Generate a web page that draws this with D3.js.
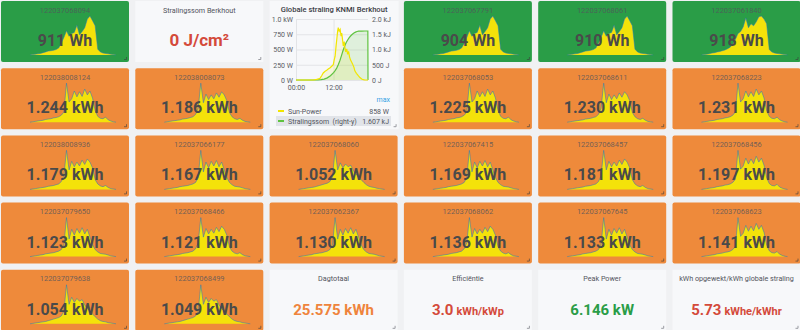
<!DOCTYPE html>
<html><head><meta charset="utf-8">
<script src="https://cdn.jsdelivr.net/npm/d3@7"></script>
<style>
html,body{margin:0;padding:0;background:#f0f1f3;}
svg{display:block;font-family:Roboto,"Helvetica Neue",Arial,sans-serif;}
</style></head><body>
<svg id="c" width="800" height="330"></svg>
<script>
// ---------------- DATA ----------------
// Sparkline time axis (hours of the day)
const sparkHours = [5.5,6,6.5,7,7.5,8,8.5,9,9.5,10,10.5,11,11.5,12,12.5,13,13.5,14,14.5,15,15.5,16,16.5,17,17.5,18,18.5,19,19.5,20,20.5,21,21.5,22];
// Power profiles (W) read from the sparklines
const profileG1 = [0,1,2,3,4,6,8,10,11,12,14,18,30,45,62,48,55,58,76,52,60,70,92,100,88,75,15,8,5,4,3,2,1,0];
const profileG2 = [0,1,2,3,5,6,8,9,11,13,16,20,28,40,55,60,72,95,70,80,75,85,98,100,92,80,14,8,5,4,3,2,1,0];
const profileO1 = [0,1,2,3,4,5,7,8,9,11,12,14,18,26,100,52,60,80,65,78,66,85,70,80,62,30,15,10,9,13,6,3,1,0];
const profileO2 = [0,1,2,3,4,5,6,8,9,10,12,14,20,35,100,50,72,58,70,60,75,64,78,70,55,25,14,9,7,10,5,2,1,0];
const profileO3 = [0,1,2,3,4,5,7,8,9,10,12,14,18,30,100,45,70,55,72,60,74,58,70,50,30,18,12,8,7,6,4,2,1,0];
const profileO4 = [0,1,2,3,4,5,6,8,10,12,14,16,20,32,100,50,68,55,65,58,62,48,40,32,25,18,12,8,6,5,3,2,1,0];
const profiles = {G1:profileG1, G2:profileG2, O1:profileO1, O2:profileO2, O3:profileO3, O4:profileO4};

// Inverter panels, in dashboard reading order
const serials = ["122037068094","122037067791","122037068061","122037061840",
  "122038008124","122038008073","122037068053","122037068611","122037068223",
  "122038008936","122037066177","122037068060","122037067415","122037068457","122037068456",
  "122037079650","122037068466","122037062367","122037068062","122037067645","122037068623",
  "122037079638","122037068499"];
const energyKWh = [0.911,0.904,0.910,0.918,
  1.244,1.186,1.225,1.230,1.231,
  1.179,1.167,1.052,1.169,1.181,1.197,
  1.123,1.121,1.130,1.136,1.133,1.141,
  1.054,1.049];
const profileOf = ["G1","G1","G1","G2",
  "O1","O2","O1","O2","O1",
  "O2","O3","O4","O3","O2","O1",
  "O3","O2","O3","O2","O3","O1",
  "O4","O4"];
const threshold = 1.0; // kWh: below -> green, above -> orange

// Single stat panels
const statTitles = ["Stralingssom Berkhout","Dagtotaal","Efficiëntie","Peak Power","kWh opgewekt/kWh globale straling"];
const statValues = ["0","25.575","3.0","6.146","5.73"];
const statUnits = [" J/cm²"," kWh","kWh/kWp"," kW","kWhe/kWhr"];
const statColorKey = ["red","orange","red","green","red"];
const statSmallUnit = [false,false,true,false,true];

// KNMI graph
const sunHours = [0,5.5,6.1,6.6,7.2,7.7,8.2,8.7,9.2,9.8,10.3,10.9,11.4,11.9,12.2,12.5,12.8,13.1,13.3,13.5,13.8,14.1,14.4,14.6,14.8,15.1,15.4,15.6,15.9,16.2,16.5,16.8,17.1,17.4,17.8,18.1,18.5,18.8,19.3,19.9,20.4,21.0,21.5,22.0,23];
const sunPower = [0,0,5,10,18,30,70,115,140,160,180,200,225,250,330,390,560,700,800,858,800,830,720,770,690,560,630,540,460,510,420,470,380,330,290,260,210,150,110,70,40,15,5,0,0];
const sumHours = [0,6,7,8,9,10,11,12,12.5,13,13.5,14,14.5,15,15.5,16,16.5,17,17.5,18,18.5,19,19.5,20,21,22,22.95,23];
const sumKJ = [0,0,0.005,0.015,0.03,0.07,0.14,0.24,0.31,0.39,0.5,0.63,0.79,0.96,1.1,1.22,1.31,1.39,1.45,1.5,1.54,1.57,1.59,1.6,1.605,1.607,1.607,0];
const leftTicks = [0,250,500,750,1000];
const leftTickLabels = ["0 W","250 W","500 W","750 W","1.0 kW"];
const rightTicks = [0,0.5,1.0,1.5,2.0];
const rightTickLabels = ["0 J","500 J","1.0 kJ","1.5 kJ","2.0 kJ"];
const xTicks = [0,12];
const xTickLabels = ["00:00","12:00"];
const graphTitle = "Globale straling KNMI Berkhout";
const legendNames = ["Sun-Power","Stralingssom  (right-y)"];
const legendMax = ["858 W","1.607 kJ"];

// ---------------- LAYOUT ----------------
const colX = i => 1 + i*134.3, colW = 128;
const rowY = r => 1 + r*67.2, rowH = 61;
const sparkCells = [[0,0],[3,0],[4,0],[5,0],
  [0,1],[1,1],[3,1],[4,1],[5,1],
  [0,2],[1,2],[2,2],[3,2],[4,2],[5,2],
  [0,3],[1,3],[2,3],[3,3],[4,3],[5,3],
  [0,4],[1,4]];
const statCells = [[1,0],[2,4],[3,4],[4,4],[5,4]];
const graphCell = [2,0];

const C = {green:"#2a9d47", orange:"#ee8a3b", red:"#d44a3a", orangeText:"#ef843c",
  panel:"#f7f8fa", title:"#52545c", value:"#4a4a4a",
  sparkFill:"#f4e20a", sparkLine:"rgba(31,120,193,0.5)"};

const svg = d3.select("#c");
svg.append("rect").attr("width",800).attr("height",330).attr("fill","#f0f1f3");

function handle(g,x,y,w,h,col){
  g.append("path").attr("d",`M${x+w-5},${y+h-2.5}H${x+w-2.5}V${y+h-5}`)
    .attr("fill","none").attr("stroke",col).attr("stroke-width",1);
}

// ---- sparkline panels ----
serials.forEach((s,i)=>{
  const [c,r] = sparkCells[i];
  const x = colX(c), y = rowY(r);
  const g = svg.append("g");
  const v = energyKWh[i];
  g.append("rect").attr("x",x).attr("y",y).attr("width",colW).attr("height",rowH).attr("rx",2)
    .attr("fill", v < threshold ? C.green : C.orange);
  const prof = profiles[profileOf[i]];
  const sx = d3.scaleLinear().domain(d3.extent(sparkHours)).range([x+29,x+115]);
  const sy = d3.scaleLinear().domain([0,d3.max(prof)]).range([y+rowH-7,y+15]);
  const pts = sparkHours.map((h,k)=>[h,prof[k]]);
  g.append("path").datum(pts)
    .attr("d", d3.area().x(d=>sx(d[0])).y0(sy(0)).y1(d=>sy(d[1])))
    .attr("fill",C.sparkFill);
  g.append("path").datum(pts)
    .attr("d", d3.line().x(d=>sx(d[0])).y(d=>sy(d[1])))
    .attr("fill","none").attr("stroke",C.sparkLine).attr("stroke-width",1);
  g.append("text").attr("x",x+colW/2).attr("y",y+11.5).attr("text-anchor","middle")
    .attr("font-size",7.5).attr("fill",C.title).attr("fill-opacity",0.8).text(s);
  const txt = v < 1 ? `${Math.round(v*1000)} Wh` : `${v.toFixed(3)} kWh`;
  g.append("text").attr("x",x+colW/2).attr("y",y+45).attr("text-anchor","middle")
    .attr("font-size",16).attr("font-weight",700).attr("fill",C.value).text(txt);
  handle(g,x,y,colW,rowH,"rgba(60,60,60,0.6)");
});

// ---- stat panels ----
statTitles.forEach((t,i)=>{
  const [c,r] = statCells[i];
  const x = colX(c), y = rowY(r);
  const g = svg.append("g");
  g.append("rect").attr("x",x).attr("y",y).attr("width",colW).attr("height",rowH).attr("fill",C.panel);
  g.append("text").attr("x",x+colW/2).attr("y",y+11.5).attr("text-anchor","middle")
    .attr("font-size",7.2).attr("fill",C.title).text(t);
  const col = statColorKey[i]==="red"?C.red:statColorKey[i]==="green"?C.green:C.orangeText;
  const tx = g.append("text").attr("x",x+colW/2).attr("y",y+45).attr("text-anchor","middle")
    .attr("font-weight",700).attr("fill",col).attr("font-size", i===0?17:15);
  tx.append("tspan").text(statValues[i]);
  tx.append("tspan").attr("font-size", statSmallUnit[i]?11:(i===0?17:15))
    .attr("dx", statSmallUnit[i]?3:0).text(statUnits[i]);
  handle(g,x,y,colW,rowH,"#9a9ca2");
});

// ---- KNMI graph panel ----
{
  const [c,r] = graphCell;
  const x = colX(c), y = rowY(r), w = colW + 1, h = rowH*2 + 6.2;
  const g = svg.append("g");
  g.append("rect").attr("x",x).attr("y",y).attr("width",w).attr("height",h).attr("fill",C.panel);
  g.append("text").attr("x",x+w/2).attr("y",y+11).attr("text-anchor","middle")
    .attr("font-size",7.6).attr("font-weight",500).attr("fill","#3b3d45").text(graphTitle);
  const px0 = 296, px1 = 368, py0 = 80, py1 = 19;
  const xs = d3.scaleLinear().domain([0,23]).range([px0,px1]);
  const yl = d3.scaleLinear().domain([0,1000]).range([py0,py1]);
  const yr = d3.scaleLinear().domain([0,2]).range([py0,py1]);
  // grid
  const gl = g.append("g").attr("transform",`translate(${px0},0)`)
    .call(d3.axisLeft(yl).tickValues(leftTicks).tickSize(-(px1-px0)).tickFormat((d,k)=>leftTickLabels[k]));
  gl.select(".domain").remove();
  gl.selectAll("line").attr("stroke","#e3e4e7");
  gl.selectAll("text").attr("font-size",7).attr("fill","#5a5c64").attr("font-family","Roboto").attr("x",-3);
  const gr = g.append("g").attr("transform",`translate(${px1},0)`)
    .call(d3.axisRight(yr).tickValues(rightTicks).tickSize(0).tickFormat((d,k)=>rightTickLabels[k]));
  gr.select(".domain").remove();
  gr.selectAll("text").attr("font-size",7).attr("fill","#5a5c64").attr("font-family","Roboto").attr("x",4);
  const gx = g.append("g").attr("transform",`translate(0,${py0})`)
    .call(d3.axisBottom(xs).tickValues(xTicks).tickSize(-(py0-py1)).tickFormat((d,k)=>xTickLabels[k]));
  gx.select(".domain").remove();
  gx.selectAll("line").attr("stroke","#e3e4e7");
  gx.selectAll("text").attr("font-size",7).attr("fill","#5a5c64").attr("font-family","Roboto").attr("y",5);
  // series
  const sumPts = sumHours.map((hh,k)=>[hh,sumKJ[k]]);
  const sunPts = sunHours.map((hh,k)=>[hh,sunPower[k]]);
  g.append("path").datum(sumPts).attr("d",d3.area().x(d=>xs(d[0])).y0(py0).y1(d=>yr(d[1])))
    .attr("fill","rgba(98,196,70,0.16)");
  g.append("path").datum(sunPts).attr("d",d3.area().x(d=>xs(d[0])).y0(py0).y1(d=>yl(d[1])))
    .attr("fill","rgba(242,230,0,0.12)");
  g.append("path").datum(sumPts).attr("d",d3.line().x(d=>xs(d[0])).y(d=>yr(d[1])))
    .attr("fill","none").attr("stroke","#5fc33f").attr("stroke-width",1.2);
  g.append("path").datum(sunPts).attr("d",d3.line().x(d=>xs(d[0])).y(d=>yl(d[1])))
    .attr("fill","none").attr("stroke","#f2e600").attr("stroke-width",1.2);
  // legend
  g.append("text").attr("x",390).attr("y",102).attr("text-anchor","end")
    .attr("font-size",7).attr("fill","#33a2e5").text("max");
  g.append("rect").attr("x",276).attr("y",116).attr("width",115).attr("height",10).attr("fill","#e1e4e9");
  const legCols = ["#f2e600","#5fc33f"];
  legendNames.forEach((n,k)=>{
    const ly = 111 + k*10;
    g.append("rect").attr("x",278).attr("y",ly-1).attr("width",6).attr("height",2).attr("fill",legCols[k]);
    g.append("text").attr("x",288).attr("y",ly+2.5).attr("font-size",7).attr("fill","#52545c")
      .attr("xml:space","preserve").text(n);
    g.append("text").attr("x",389).attr("y",ly+2.5).attr("text-anchor","end").attr("font-size",7)
      .attr("fill","#52545c").text(legendMax[k]);
  });
  handle(g,x,y,w,h,"#9a9ca2");
}
</script>
</body></html>
